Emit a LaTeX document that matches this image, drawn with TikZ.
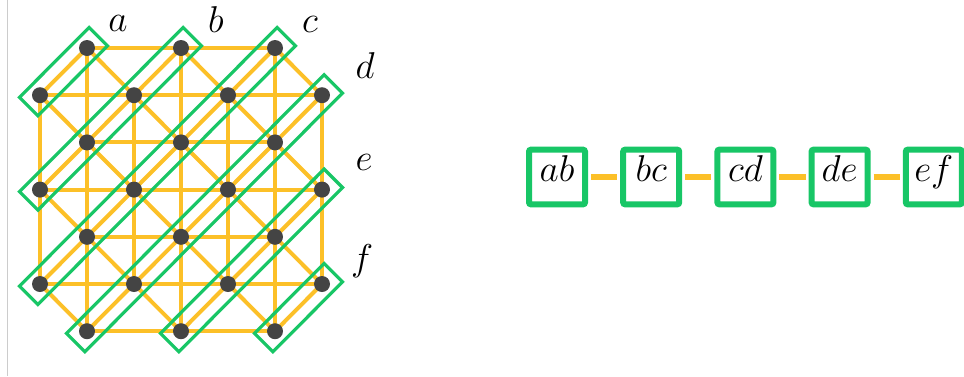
\documentclass[tikz,border=0pt]{standalone}
\usepackage{fix-cm}
\usepackage{amsmath}
\usepackage{tikz}
\usetikzlibrary{calc}

\definecolor{latorange}{RGB}{252,192,40}
\definecolor{grpgreen}{RGB}{24,198,102}
\definecolor{sitegray}{RGB}{68,68,68}

\begin{document}
\begin{tikzpicture}[x=0.75pt,y=-0.75pt,
  bond/.style={latorange,line width=3pt},
  grp/.style={grpgreen,line width=2.4pt,line join=miter},
  site/.style={circle,fill=sitegray,inner sep=0pt,minimum size=12pt},
  lab/.style={font=\fontsize{28}{34}\selectfont,anchor=base,inner sep=0pt},
  pair/.style={draw=grpgreen,line width=4.5pt,rounded corners=1.5pt,fill=white,
    minimum width=42pt,minimum height=41pt,inner sep=0pt,
    text height=0.69em,text depth=0pt,font=\fontsize{28}{34}\selectfont},
  link/.style={latorange,line width=4.5pt,shorten <=2.25pt,shorten >=2.25pt}]
  \def\ox{40}
  \def\oy{48}
  \def\dx{47}
  \def\dy{47.2}

  \useasboundingbox (0,0) rectangle (964,376);
  \draw[black!20,line width=0.75pt] (7,0) -- (7,376);

  % ================= lattice grid points =================
  \foreach \r in {0,...,6}{
    \foreach \c in {0,...,6}{
      \coordinate (p-\r-\c) at (\ox+\dx*\c,\oy+\dy*\r);
    }
  }

  % ================= bonds: rows, columns, diagonals =================
  \foreach \r in {0,...,6}{
    \foreach \c in {0,...,6}{
      \pgfmathtruncatemacro\sumrc{mod(\r+\c,2)}
      \pgfmathtruncatemacro\rA{\r+1}
      \pgfmathtruncatemacro\rB{\r+2}
      \pgfmathtruncatemacro\cA{\c+1}
      \pgfmathtruncatemacro\cB{\c+2}
      \pgfmathtruncatemacro\cM{\c-1}
      \ifnum\sumrc=1
        \ifnum\c<5 \draw[bond] (p-\r-\c) -- (p-\r-\cB); \fi
        \ifnum\r<5 \draw[bond] (p-\r-\c) -- (p-\rB-\c); \fi
        \ifnum\r<6
          \ifnum\c<6 \draw[bond] (p-\r-\c) -- (p-\rA-\cA); \fi
          \ifnum\c>0 \draw[bond] (p-\r-\c) -- (p-\rA-\cM); \fi
        \fi
      \fi
    }
  }

  % ================= diagonal groups a--f =================
  \foreach \ra/\ca/\rb/\cb/\nm/\lx/\ly in
    {1/0/0/1/a/118/31, 3/0/0/3/b/216/32, 5/0/0/5/c/310/32,
     6/1/1/6/d/365/78, 6/3/3/6/e/364/170, 6/5/5/6/f/362/270}{
    \draw[grp] ($(p-\ra-\ca)+(-20.5,2.1)$) -- ($(p-\ra-\ca)+(-2.1,20.5)$)
      -- ($(p-\rb-\cb)+(20.5,-2.1)$) -- ($(p-\rb-\cb)+(2.1,-20.5)$) -- cycle;
    \node[lab] (l-\nm) at (\lx,\ly) {$\nm$};
  }

  % ================= sites =================
  \foreach \r in {0,...,6}{
    \foreach \c in {0,...,6}{
      \pgfmathtruncatemacro\sumrc{mod(\r+\c,2)}
      \ifnum\sumrc=1 \node[site] (s-\r-\c) at (p-\r-\c) {}; \fi
    }
  }

  % ================= chain of pairs =================
  \foreach \nm [count=\i from 0] in {ab,bc,cd,de,ef}{
    \node[pair] (\nm) at (557+94.2*\i,177) {$\nm$};
  }
  \draw[link] (ab) -- (bc);
  \draw[link] (bc) -- (cd);
  \draw[link] (cd) -- (de);
  \draw[link] (de) -- (ef);

\end{tikzpicture}
\end{document}
